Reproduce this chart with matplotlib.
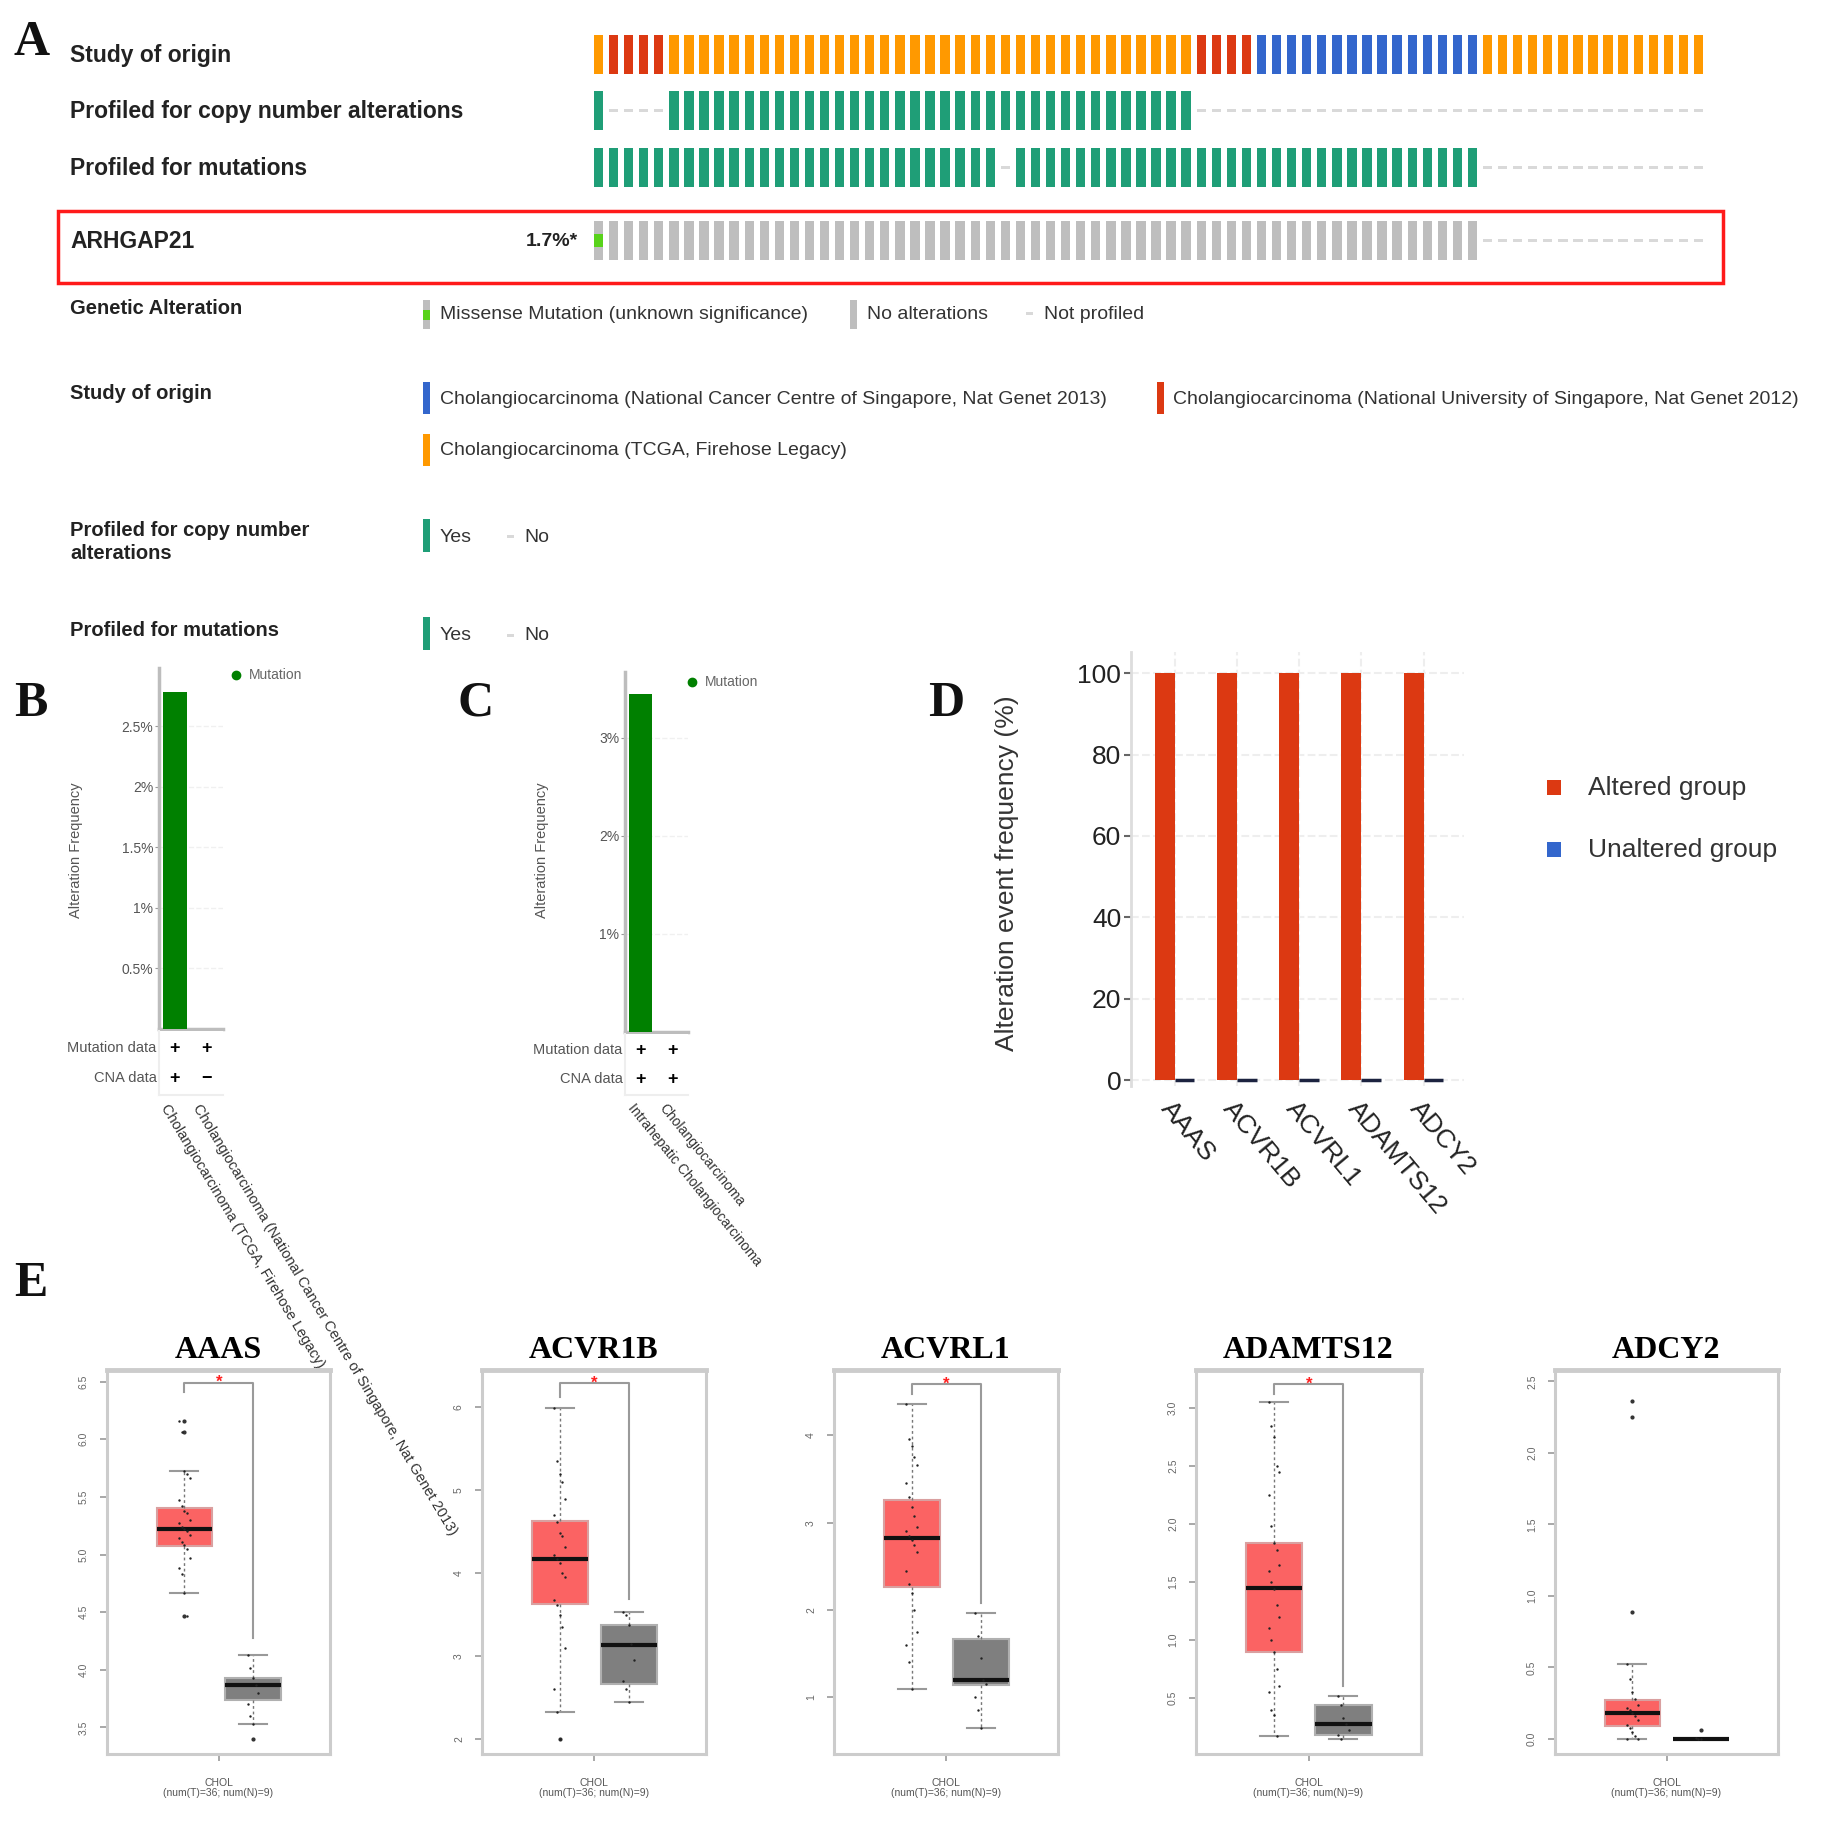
import matplotlib
matplotlib.use('Agg')
import matplotlib.pyplot as plt
from matplotlib.patches import Rectangle
import numpy as np

plt.rcParams['font.family'] = ['Liberation Sans', 'DejaVu Sans']

W = H = 1825
fig = plt.figure(figsize=(18.25, 18.25), dpi=100)

def px_axes(x0, y0, x1, y1):
    return fig.add_axes([x0 / W, 1 - y1 / H, (x1 - x0) / W, (y1 - y0) / H])

# ---------------- data ----------------
# Panel A (oncoprint, 74 samples)
study_runs = [('TCGA', 1), ('NUS', 4), ('TCGA', 35), ('NUS', 4), ('NCCS', 15), ('TCGA', 15)]
cna_profiled_runs = [(1, 1), (0, 4), (1, 35), (0, 34)]
mut_profiled_runs = [(1, 27), (0, 1), (1, 31), (0, 15)]
arhgap21_runs = [('missense', 1), ('none', 58), ('np', 15)]
arhgap21_freq = '1.7%*'
track_labels = ['Study of origin', 'Profiled for copy number alterations', 'Profiled for mutations']
gene_label = 'ARHGAP21'
study_names = {
    'NCCS': 'Cholangiocarcinoma (National Cancer Centre of Singapore, Nat Genet 2013)',
    'NUS': 'Cholangiocarcinoma (National University of Singapore, Nat Genet 2012)',
    'TCGA': 'Cholangiocarcinoma (TCGA, Firehose Legacy)',
}

# Panel B
b_categories = ['Cholangiocarcinoma (TCGA, Firehose Legacy)',
                'Cholangiocarcinoma (National Cancer Centre of Singapore, Nat Genet 2013)']
b_freq = [2.78, 0.0]
b_mut_data = ['+', '+']
b_cna_data = ['+', '\u2212']
b_ticks = [0.5, 1, 1.5, 2, 2.5]
b_ticklabels = ['0.5%', '1%', '1.5%', '2%', '2.5%']

# Panel C
c_categories = ['Intrahepatic Cholangiocarcinoma', 'Cholangiocarcinoma']
c_freq = [3.45, 0.0]
c_mut_data = ['+', '+']
c_cna_data = ['+', '+']
c_ticks = [1, 2, 3]
c_ticklabels = ['1%', '2%', '3%']

# Panel D
d_genes = ['AAAS', 'ACVR1B', 'ACVRL1', 'ADAMTS12', 'ADCY2']
d_altered = [100, 100, 100, 100, 100]
d_unaltered = [0, 0, 0, 0, 0]
d_ticks = [0, 20, 40, 60, 80, 100]

# Panel E (box statistics: q1, median, q3, lower whisker, upper whisker)
e_genes = ['AAAS', 'ACVR1B', 'ACVRL1', 'ADAMTS12', 'ADCY2']
e_tumor_box = [(5.07, 5.22, 5.40, 4.67, 5.72), (3.63, 4.17, 4.63, 2.33, 5.99),
               (2.26, 2.82, 3.26, 1.10, 4.36), (0.90, 1.445, 1.836, 0.175, 3.05),
               (0.089, 0.18, 0.275, 0.0, 0.527)]
e_normal_box = [(3.735, 3.865, 3.93, 3.53, 4.13), (2.67, 3.13, 3.38, 2.45, 3.53),
                (1.14, 1.20, 1.67, 0.65, 1.97), (0.18, 0.28, 0.437, 0.147, 0.52),
                (0.0, 0.0, 0.0, 0.0, 0.0)]
e_tumor_fliers = [[6.16, 6.06, 4.47], [2.0], [], [], [2.36, 2.25, 0.886]]
e_normal_fliers = [[3.40], [], [], [], [0.065]]
e_tumor_points = [
    [6.16, 6.06, 5.72, 5.70, 5.66, 5.47, 5.42, 5.38, 5.36, 5.30, 5.27, 5.24, 5.22, 5.20,
     5.17, 5.14, 5.11, 5.08, 5.05, 4.97, 4.88, 4.83, 4.67, 4.47],
    [5.99, 5.35, 5.2, 5.1, 4.9, 4.7, 4.62, 4.48, 4.45, 4.32, 4.22, 4.17, 4.12, 4.0, 3.95,
     3.68, 3.62, 3.5, 3.35, 3.1, 2.6, 2.33, 2.0],
    [4.36, 3.96, 3.88, 3.75, 3.66, 3.45, 3.3, 3.18, 3.08, 2.95, 2.9, 2.85, 2.8, 2.75, 2.66,
     2.45, 2.3, 2.2, 2.0, 1.75, 1.6, 1.4, 1.1],
    [3.05, 2.85, 2.75, 2.5, 2.45, 2.25, 1.98, 1.84, 1.78, 1.65, 1.6, 1.5, 1.44, 1.3, 1.2,
     1.1, 1.0, 0.9, 0.75, 0.6, 0.55, 0.4, 0.35, 0.175],
    [0.527, 0.42, 0.33, 0.28, 0.24, 0.22, 0.2, 0.18, 0.16, 0.13, 0.1, 0.08, 0.05, 0.02, 0.0, 0.0],
]
e_normal_points = [
    [4.13, 4.02, 3.93, 3.87, 3.80, 3.70, 3.60, 3.53],
    [3.53, 3.5, 3.38, 3.15, 2.95, 2.7, 2.6, 2.45],
    [1.97, 1.7, 1.45, 1.2, 1.15, 1.0, 0.85, 0.65],
    [0.52, 0.44, 0.33, 0.28, 0.22, 0.18, 0.15],
    [0.01, 0.0, 0.0],
]
e_ylims = [(3.27, 6.6), (1.82, 6.45), (0.35, 4.75), (0.017, 3.33), (-0.105, 2.58)]
e_yticks = [[3.5, 4.0, 4.5, 5.0, 5.5, 6.0, 6.5], [2, 3, 4, 5, 6], [1, 2, 3, 4],
            [0.5, 1.0, 1.5, 2.0, 2.5, 3.0], [0.0, 0.5, 1.0, 1.5, 2.0, 2.5]]
e_yticklabels = [['3.5', '4.0', '4.5', '5.0', '5.5', '6.0', '6.5'], ['2', '3', '4', '5', '6'],
                 ['1', '2', '3', '4'], ['0.5', '1.0', '1.5', '2.0', '2.5', '3.0'],
                 ['0.0', '0.5', '1.0', '1.5', '2.0', '2.5']]
# significance bracket: (top, tumor leg end, normal leg end); None = not significant
e_brackets = [(6.49, 6.41, 4.28), (6.29, 6.13, 3.69), (4.59, 4.48, 2.08), (3.21, 3.12, 0.6), None]
e_xlabel = 'CHOL\n(num(T)=36; num(N)=9)'

# ---------------- styles ----------------
study_colors = {'TCGA': '#FF9900', 'NUS': '#DC3912', 'NCCS': '#3366CC'}
PROF_GREEN = '#1f9e77'
GRAY = '#bebebe'
NP_GRAY = '#d9d9d9'
MISSENSE = '#58d21a'


def expand(runs):
    out = []
    for v, n in runs:
        out += [v] * n
    return out


# ---------------- overlay for texts ----------------
ov = fig.add_axes([0, 0, 1, 1])
ov.set_xlim(0, W)
ov.set_ylim(H, 0)
ov.axis('off')
ov.set_zorder(10)
ov.patch.set_visible(False)

# ---------------- Panel A: oncoprint ----------------
axo = px_axes(591, 30, 1706, 265)
n_samples = len(expand(study_runs))
axo.set_xlim(-0.5, n_samples - 0.5)
axo.set_ylim(265, 30)
axo.axis('off')
idx = np.arange(n_samples)
row_tops = [35, 91, 148, 221]
row_h = 39
bw = 0.62

study = expand(study_runs)
axo.bar(idx, row_h, bottom=row_tops[0], width=bw, color=[study_colors[s] for s in study])

for r, runs in ((1, cna_profiled_runs), (2, mut_profiled_runs)):
    prof = np.array(expand(runs))
    yes = idx[prof == 1]
    no = idx[prof == 0]
    axo.bar(yes, row_h, bottom=row_tops[r], width=bw, color=PROF_GREEN)
    axo.bar(no, 3, bottom=row_tops[r] + row_h / 2 - 1.5, width=bw, color=NP_GRAY)

alt = np.array(expand(arhgap21_runs))
prof_idx = idx[alt != 'np']
axo.bar(prof_idx, row_h, bottom=row_tops[3], width=bw, color=GRAY)
mis_idx = idx[alt == 'missense']
axo.bar(mis_idx, row_h / 3, bottom=row_tops[3] + row_h / 3, width=bw, color=MISSENSE)
np_idx = idx[alt == 'np']
axo.bar(np_idx, 3, bottom=row_tops[3] + row_h / 2 - 1.5, width=bw, color=NP_GRAY)

for lbl, y in zip(track_labels, [55, 111, 168]):
    ov.text(70, y, lbl, fontsize=16.5, fontweight='bold', color='#222222', va='center', ha='left')
ov.text(70, 241, gene_label, fontsize=16.5, fontweight='bold', color='#222222', va='center')
ov.text(578, 241, arhgap21_freq, fontsize=14, fontweight='bold', color='#222222', va='center', ha='right')
ov.add_patch(Rectangle((58, 211), 1665, 72, fill=False, ec='#ff1a1a', lw=2.5))

# legend of panel A
leg_lab_kw = dict(fontsize=14.5, fontweight='bold', color='#222222', va='center', ha='left')
leg_txt_kw = dict(fontsize=14, color='#333333', va='center', ha='left')
ov.text(70, 308, 'Genetic Alteration', **leg_lab_kw)
ov.add_patch(Rectangle((423, 300), 7, 29, color=GRAY, lw=0))
ov.add_patch(Rectangle((423, 309.5), 7, 10, color=MISSENSE, lw=0))
ov.text(440, 314, 'Missense Mutation (unknown significance)', **leg_txt_kw)
ov.add_patch(Rectangle((850, 300), 7, 29, color=GRAY, lw=0))
ov.text(867, 314, 'No alterations', **leg_txt_kw)
ov.add_patch(Rectangle((1026, 312), 7, 2.5, color=NP_GRAY, lw=0))
ov.text(1044, 314, 'Not profiled', **leg_txt_kw)

ov.text(70, 393, 'Study of origin', **leg_lab_kw)
ov.add_patch(Rectangle((423, 382), 7, 32, color=study_colors['NCCS'], lw=0))
ov.text(440, 399, study_names['NCCS'], **leg_txt_kw)
ov.add_patch(Rectangle((1157, 382), 7, 32, color=study_colors['NUS'], lw=0))
ov.text(1173, 399, study_names['NUS'], **leg_txt_kw)
ov.add_patch(Rectangle((423, 434), 7, 32, color=study_colors['TCGA'], lw=0))
ov.text(440, 450, study_names['TCGA'], **leg_txt_kw)

ov.text(70, 542, 'Profiled for copy number\nalterations', linespacing=1.25, **leg_lab_kw)
ov.add_patch(Rectangle((423, 519), 7, 33, color=PROF_GREEN, lw=0))
ov.text(440, 537, 'Yes', **leg_txt_kw)
ov.add_patch(Rectangle((507, 535), 7, 2.5, color=NP_GRAY, lw=0))
ov.text(524, 537, 'No', **leg_txt_kw)

ov.text(70, 630, 'Profiled for mutations', **leg_lab_kw)
ov.add_patch(Rectangle((423, 617), 7, 33, color=PROF_GREEN, lw=0))
ov.text(440, 636, 'Yes', **leg_txt_kw)
ov.add_patch(Rectangle((507, 634), 7, 2.5, color=NP_GRAY, lw=0))
ov.text(524, 636, 'No', **leg_txt_kw)


# ---------------- Panels B & C ----------------
def freq_panel(box, tbox, cats, freq, ticks, ticklabels, ytop, mut, cna, lab_x, lab_y,
               leg_xy, rot, rot_fs):
    x0, y0, x1, y1 = box
    ax = px_axes(*box)
    ax.bar(range(len(cats)), freq, width=0.74, color='#008000', zorder=3)
    ax.set_xlim(-0.5, len(cats) - 0.5)
    ax.set_ylim(0, ytop)
    ax.set_yticks(ticks)
    ax.set_yticklabels(ticklabels, fontsize=10, color='#555555')
    ax.tick_params(axis='y', length=3, color='#999999', pad=1)
    ax.set_xticks([])
    for s in ('top', 'right'):
        ax.spines[s].set_visible(False)
    for s in ('left', 'bottom'):
        ax.spines[s].set_color('#bdbdbd')
        ax.spines[s].set_linewidth(2.5)
    ax.yaxis.grid(True, color='#f0f0f0', ls='--', lw=1)
    ax.set_axisbelow(True)
    ax.set_ylabel('Alteration Frequency', fontsize=10.5, color='#555555')
    ax.yaxis.set_label_coords((lab_x - x0) / (x1 - x0), (y1 - lab_y) / (y1 - y0))

    at = px_axes(*tbox)
    at.set_xlim(-0.5, len(cats) - 0.5)
    at.set_ylim(1, 0)
    at.set_xticks([])
    at.set_yticks([])
    for s in ('top', 'right'):
        at.spines[s].set_visible(False)
    for s in ('left', 'bottom'):
        at.spines[s].set_color('#eeeeee')
        at.spines[s].set_linewidth(1.5)
    for i in range(len(cats)):
        at.text(i, 0.27, mut[i], fontsize=13, fontweight='bold', ha='center', va='center')
        at.text(i, 0.74, cna[i], fontsize=13, fontweight='bold', ha='center', va='center')
    tr = at.get_yaxis_transform()
    at.text(-0.04, 0.27, 'Mutation data', transform=tr, fontsize=10.5,
            color='#555555', ha='right', va='center')
    at.text(-0.04, 0.74, 'CNA data', transform=tr, fontsize=10.5,
            color='#555555', ha='right', va='center')
    for i, c in enumerate(cats):
        at.text(i - 0.15, 1.1, c, fontsize=rot_fs, color='#333333', rotation=rot,
                rotation_mode='anchor', ha='left', va='top')
    ov.plot([leg_xy[0]], [leg_xy[1]], 'o', ms=6, color='#008000')
    ov.text(leg_xy[0] + 13, leg_xy[1], 'Mutation', fontsize=10, color='#666666', va='center')


freq_panel((159, 668, 223, 1029), (159, 1031, 223, 1095), b_categories, b_freq, b_ticks,
           b_ticklabels, 2.98, b_mut_data, b_cna_data, 83, 850, (236, 675), -59, 10.5)
freq_panel((625, 672, 688, 1032), (625, 1034, 688, 1095), c_categories, c_freq, c_ticks,
           c_ticklabels, 3.67, c_mut_data, c_cna_data, 549, 850, (692, 682), -51, 10)

# ---------------- Panel D ----------------
axd = px_axes(1131, 652, 1464, 1086)
xd = np.arange(len(d_genes))
axd.bar(xd - 0.16, d_altered, width=0.32, color='#DC3912', zorder=3)
axd.bar(xd + 0.16, d_unaltered, width=0.32, color='#3366CC', edgecolor='#1c2340',
        linewidth=2.5, zorder=3)
axd.set_xlim(-0.7, 4.65)
axd.set_ylim(-1.47, 105.2)
axd.set_yticks(d_ticks)
axd.set_yticklabels([str(t) for t in d_ticks], fontsize=19, color='#222222')
axd.set_xticks(xd)
axd.set_xticklabels(d_genes, fontsize=19, color='#222222', rotation=-50,
                    rotation_mode='anchor', ha='left', va='top')
axd.tick_params(axis='y', length=5, color='#666666', width=1.5, pad=2)
axd.tick_params(axis='x', length=0, pad=8)
for s in ('top', 'right', 'bottom'):
    axd.spines[s].set_visible(False)
axd.spines['left'].set_color('#dddddd')
axd.spines['left'].set_linewidth(2)
axd.grid(True, color='#eeeeee', ls='--', lw=1.5)
axd.set_axisbelow(True)
axd.set_ylabel('Alteration event frequency (%)', fontsize=19, color='#333333')
axd.yaxis.set_label_coords((1019 - 1131) / 333, (1086 - 873) / 434)
ov.add_patch(Rectangle((1547, 780), 14, 15, color='#DC3912', lw=0))
ov.text(1588, 788, 'Altered group', fontsize=19, color='#333333', va='center')
ov.add_patch(Rectangle((1547, 842), 14, 15, color='#3366CC', lw=0))
ov.text(1588, 850, 'Unaltered group', fontsize=19, color='#333333', va='center')

# ---------------- Panel E ----------------
e_frames = [(107, 330), (482, 706), (834, 1058), (1196, 1421), (1555, 1778)]
pos_t, pos_n, bwid = 0.347, 0.655, 0.25
for k, gene in enumerate(e_genes):
    fx0, fx1 = e_frames[k]
    ax = px_axes(fx0, 1370, fx1, 1754)
    stats = []
    for bx, fl in ((e_tumor_box[k], e_tumor_fliers[k]), (e_normal_box[k], e_normal_fliers[k])):
        q1, med, q3, lo, hi = bx
        stats.append(dict(q1=q1, med=med, q3=q3, whislo=lo, whishi=hi, fliers=fl))
    bp = ax.bxp(stats, positions=[pos_t, pos_n], widths=bwid, patch_artist=True,
                showfliers=True,
                medianprops=dict(color='#111111', lw=3),
                whiskerprops=dict(color='#777777', lw=1, ls=(0, (2, 2))),
                capprops=dict(color='#999999', lw=1.5),
                flierprops=dict(marker='o', ms=2, mfc='#333333', mec='#333333'),
                boxprops=dict(lw=1.5))
    bp['boxes'][0].set_facecolor('#fb6363')
    bp['boxes'][0].set_edgecolor('#d9a0a0')
    bp['boxes'][1].set_facecolor('#7f7f7f')
    bp['boxes'][1].set_edgecolor('#b0b0b0')
    for pts, pos in ((e_tumor_points[k], pos_t), (e_normal_points[k], pos_n)):
        pts = np.array(pts)
        offs = ((np.arange(len(pts)) % 5) - 2) * 0.012
        ax.scatter(pos + offs, pts, s=3, color='#222222', zorder=4, lw=0)
    br = e_brackets[k]
    if br is not None:
        top, lt, ln = br
        ax.plot([pos_t, pos_t, pos_n, pos_n], [lt, top, top, ln], color='#9a9a9a', lw=1.5)
        ax.text((pos_t + pos_n) / 2, top, '*', color='#ff2020', fontsize=12,
                fontweight='bold', ha='center', va='center')
    ax.set_xlim(0, 1)
    ax.set_ylim(*e_ylims[k])
    ax.set_yticks(e_yticks[k])
    ax.set_yticklabels(e_yticklabels[k], rotation=90, fontsize=7.5, color='#666666',
                       va='center')
    ax.tick_params(axis='y', length=5, color='#999999', width=1.2, pad=8)
    ax.set_xticks([0.5])
    ax.set_xticklabels([e_xlabel], fontsize=7.5, color='#555555', linespacing=1.1)
    ax.tick_params(axis='x', length=5, color='#999999', width=1.2, pad=12)
    for s in ax.spines.values():
        s.set_color('#cccccc')
        s.set_linewidth(2.2)
    ax.spines['top'].set_linewidth(3.5)
    ax.set_title(gene, fontsize=23, fontweight='bold', family='Liberation Serif', pad=9)

# ---------------- panel letters ----------------
for letter, (x, y) in zip('ABCDE', [(14, 43), (14, 704), (458, 704), (928, 704), (14, 1284)]):
    ov.text(x, y, letter, fontsize=36, fontweight='bold', family='Liberation Serif',
            ha='left', va='center', color='#111111')

fig.savefig('out.png', dpi=100)
